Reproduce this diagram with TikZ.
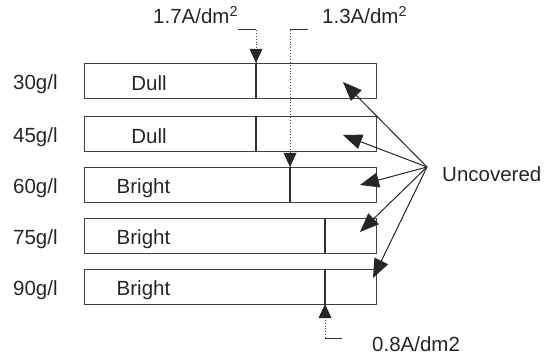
\documentclass[tikz,border=0pt]{standalone}
\usepackage{fontspec}
\setmainfont{Liberation Sans}
\usetikzlibrary{arrows.meta}
\begin{document}
\begin{tikzpicture}[x=1pt,y=-1pt,
 lbl/.style={font=\fontsize{20.5}{24}\selectfont, text=black!85, inner sep=0},
 bar/.style={draw=black!75, line width=1.3pt, minimum width=292pt, minimum height=35pt, inner sep=0, anchor=north west},
 div/.style={draw=black!80, line width=1.3pt},
 lead/.style={draw=black!75, dotted, line width=0.9pt},
 tick/.style={draw=black!80, line width=1pt},
 ptr/.style={draw=black!85, line width=1pt, -{Triangle[length=19pt,width=15pt]}}]
\useasboundingbox (0,0) rectangle (551,358);
% bars
\node[bar] (b1) at (84,63) {};
\node[bar] (b2) at (84,116) {};
\node[bar] (b3) at (84,167) {};
\node[bar] (b4) at (84,218) {};
\node[bar] (b5) at (84,269) {};
% concentration labels
\node[lbl, anchor=base west] (c1) at (13,89.5) {30g/l};
\node[lbl, anchor=base west] (c2) at (13,142.5) {45g/l};
\node[lbl, anchor=base west] (c3) at (13,193.5) {60g/l};
\node[lbl, anchor=base west] (c4) at (13,244.5) {75g/l};
\node[lbl, anchor=base west] (c5) at (13,295.5) {90g/l};
% bar texts
\node[lbl, anchor=base] (t1) at (149,90.5) {Dull};
\node[lbl, anchor=base] (t2) at (149,143.5) {Dull};
\node[lbl, anchor=base] (t3) at (143.5,193.5) {Bright};
\node[lbl, anchor=base] (t4) at (143.5,244.5) {Bright};
\node[lbl, anchor=base] (t5) at (143.5,295.5) {Bright};
% dividers
\draw[div] (256,63) -- (256,98);
\draw[div] (256,116) -- (256,151);
\draw[div] (290,167) -- (290,202);
\draw[div] (325,218) -- (325,253);
\draw[div] (325,269) -- (325,304);
% current density labels
\node[lbl, anchor=base west] (j1) at (153,24) {1.7A/dm\textsuperscript{2}};
\node[lbl, anchor=base west] (j2) at (322,24) {1.3A/dm\textsuperscript{2}};
\node[lbl, anchor=base west] (j3) at (372,351.5) {0.8A/dm2};
% leaders
\coordinate (k1) at (256,30);
\coordinate (k2) at (290,30);
\coordinate (k3) at (325,338);
\draw[tick] (238,30) -- (k1);
\draw[tick] (k2) -- (308,30);
\draw[tick] (k3) -- (342,338);
\draw[lead] (k1) -- (256,63);
\draw[lead] (k2) -- (290,167);
\draw[lead] (k3) -- (325,304);
\fill[black!85] (256,63) -- (249.5,49) -- (262.5,49) -- cycle;
\fill[black!85] (290,167) -- (283.5,153) -- (296.5,153) -- cycle;
\fill[black!85] (325,304) -- (318.5,318) -- (331.5,318) -- cycle;
% uncovered
\node[lbl, anchor=base west] (unc) at (442,181.5) {Uncovered};
\coordinate (src) at (427,167);
\coordinate (u1) at (343,82);
\coordinate (u2) at (343,135);
\coordinate (u3) at (360,185);
\coordinate (u4) at (360,232);
\coordinate (u5) at (373,278);
\foreach \u in {u1,u2,u3,u4,u5} \draw[ptr] (src) -- (\u);
\end{tikzpicture}
\end{document}
